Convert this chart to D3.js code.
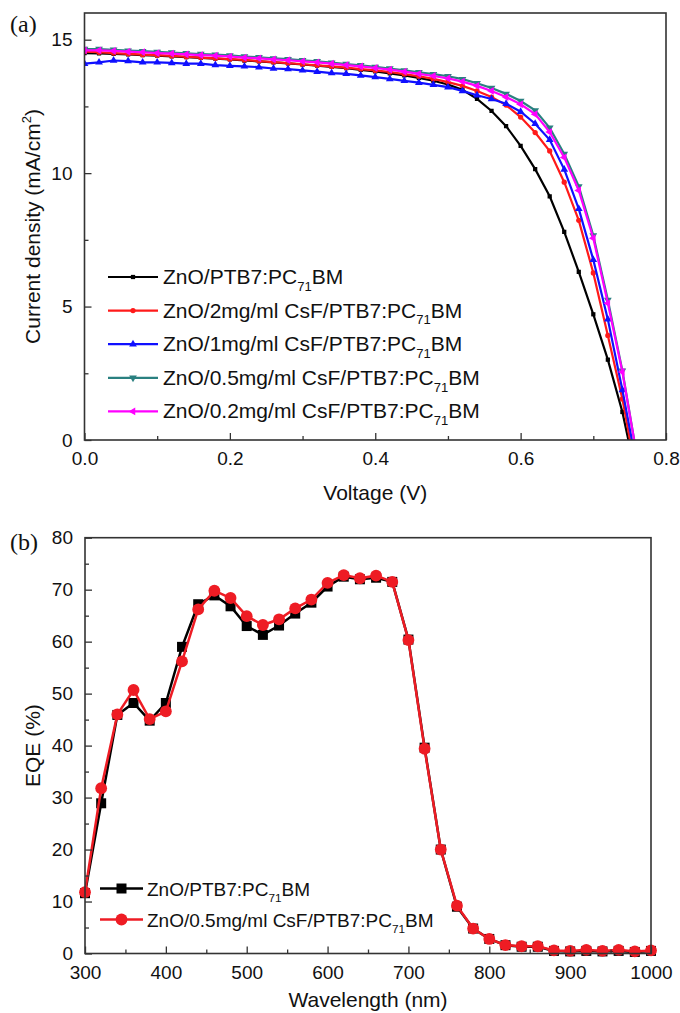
<!DOCTYPE html>
<html><head><meta charset="utf-8">
<script src="https://cdn.jsdelivr.net/npm/d3@7"></script>
<style>body{margin:0;background:#fff;} svg{display:block;font-family:"Liberation Sans",Arial,sans-serif;}</style>
</head><body>
<svg id="c" width="680" height="1013"></svg>
<script>
// ---------- Panel (a) data: J-V curves ----------
const voltage = [0.00,0.02,0.04,0.06,0.08,0.10,0.12,0.14,0.16,0.18,0.20,0.22,0.24,0.26,0.28,0.30,0.32,0.34,0.36,0.38,0.40,0.42,0.44,0.46,0.48,0.50,0.52,0.54,0.56,0.58,0.60,0.62,0.64,0.66,0.68,0.70,0.72,0.74,0.76];
const jBlack   = [14.50,14.49,14.47,14.45,14.42,14.40,14.37,14.35,14.32,14.29,14.26,14.22,14.19,14.15,14.11,14.07,14.03,13.98,13.93,13.87,13.81,13.74,13.66,13.57,13.46,13.32,13.12,12.78,12.33,11.76,11.02,10.15,9.13,7.80,6.30,4.71,3.01,1.05,-1.5];
const jRed     = [14.55,14.53,14.50,14.47,14.44,14.42,14.39,14.36,14.33,14.30,14.27,14.24,14.20,14.16,14.12,14.08,14.04,14.00,13.95,13.90,13.85,13.79,13.71,13.63,13.53,13.41,13.27,13.08,12.85,12.55,12.10,11.52,10.83,9.66,8.23,6.26,3.92,1.54,-1.4];
const jBlue    = [14.10,14.15,14.22,14.20,14.15,14.15,14.13,14.10,14.10,14.05,14.02,14.00,13.97,13.92,13.90,13.85,13.80,13.75,13.72,13.66,13.60,13.53,13.46,13.39,13.31,13.22,13.08,12.92,12.78,12.60,12.30,11.85,11.25,10.14,8.66,6.75,4.52,1.87,-1.0];
const jTeal    = [14.65,14.65,14.62,14.59,14.57,14.54,14.52,14.49,14.46,14.44,14.41,14.37,14.34,14.30,14.27,14.23,14.19,14.14,14.09,14.04,13.98,13.92,13.85,13.78,13.71,13.63,13.52,13.37,13.19,12.97,12.70,12.35,11.70,10.72,9.50,7.66,5.25,2.60,-0.6];
const jMagenta = [14.60,14.60,14.58,14.55,14.53,14.50,14.48,14.45,14.42,14.40,14.37,14.33,14.30,14.26,14.23,14.19,14.15,14.10,14.05,14.00,13.94,13.88,13.80,13.72,13.64,13.55,13.43,13.27,13.08,12.85,12.58,12.21,11.54,10.59,9.35,7.56,5.12,2.55,-0.6];
const seriesA = ["ZnO/PTB7:PC|71|BM","ZnO/2mg/ml CsF/PTB7:PC|71|BM","ZnO/1mg/ml CsF/PTB7:PC|71|BM","ZnO/0.5mg/ml CsF/PTB7:PC|71|BM","ZnO/0.2mg/ml CsF/PTB7:PC|71|BM"];
const xTicksA = [0.0,0.2,0.4,0.6,0.8];
const yTicksA = [0,5,10,15];

// ---------- Panel (b) data: EQE ----------
const wavelength = [300,320,340,360,380,400,420,440,460,480,500,520,540,560,580,600,620,640,660,680,700,720,740,760,780,800,820,840,860,880,900,920,940,960,980,1000];
const eqeRef  = [11.6,28.9,45.9,48.2,44.8,48.2,59.0,67.2,68.9,66.8,63.0,61.3,63.1,65.4,67.5,70.6,72.5,72.0,72.3,71.5,60.4,39.6,20.0,9.0,4.8,2.8,1.6,1.3,1.3,0.5,0.4,0.5,0.4,0.5,0.3,0.5];
const eqeCsF  = [11.8,31.8,46.0,50.7,45.1,46.6,56.2,66.2,69.8,68.4,64.9,63.2,64.3,66.4,68.1,71.3,72.8,72.2,72.7,71.5,60.3,39.4,20.0,9.2,4.8,2.8,1.6,1.4,1.4,0.6,0.5,0.7,0.5,0.7,0.4,0.6];
const seriesB = ["ZnO/PTB7:PC|71|BM","ZnO/0.5mg/ml CsF/PTB7:PC|71|BM"];
const xTicksB = [300,400,500,600,700,800,900,1000];
const yTicksB = [0,10,20,30,40,50,60,70,80];

const svg = d3.select("#c");

function addLabel(sel, str, size){
  const parts = str.split("|");
  sel.append("tspan").text(parts[0]);
  sel.append("tspan").attr("font-size", size*0.62).attr("dy", size*0.32).text(parts[1]);
  sel.append("tspan").attr("dy", -size*0.32).text(parts[2]);
}

function frameAxes(g, x, y, w, h, xt, xMinor, yt, yMinor, xfmt, yfmt, fs){
  const ax = g.append("g").attr("transform",`translate(0,${h})`)
    .call(d3.axisBottom(x).tickValues(xt).tickFormat(xfmt).tickSizeInner(-7).tickSizeOuter(0).tickPadding(12));
  const axm = g.append("g").attr("transform",`translate(0,${h})`)
    .call(d3.axisBottom(x).tickValues(xMinor).tickFormat("").tickSizeInner(-4).tickSizeOuter(0));
  const ay = g.append("g")
    .call(d3.axisLeft(y).tickValues(yt).tickFormat(yfmt).tickSizeInner(-7).tickSizeOuter(0).tickPadding(12));
  const aym = g.append("g")
    .call(d3.axisLeft(y).tickValues(yMinor).tickFormat("").tickSizeInner(-4).tickSizeOuter(0));
  [ax,axm,ay,aym].forEach(a=>{
    a.select(".domain").remove();
    a.selectAll("line").attr("stroke","#333").attr("stroke-width",1.3);
    a.selectAll("text").attr("font-size",fs).attr("fill","#111").attr("font-family","Liberation Sans, Arial, sans-serif");
  });
  g.append("rect").attr("x",0).attr("y",0).attr("width",w).attr("height",h)
    .attr("fill","none").attr("stroke","#333").attr("stroke-width",1.6);
}

// ---------- Panel (a) ----------
{
  const L=84.5, T=13, R=666, B=440, w=R-L, h=B-T;
  const g = svg.append("g").attr("transform",`translate(${L},${T})`);
  const x = d3.scaleLinear().domain([0,0.8]).range([0,w]);
  const y = d3.scaleLinear().domain([0,16]).range([h,0]);
  g.append("clipPath").attr("id","clipA").append("rect").attr("width",w).attr("height",h);
  const colors = ["#000000","#ff1a1a","#1010ff","#2a8080","#ff00ff"];
  const symbols = [
    {t:d3.symbolSquare, s:18, r:0},
    {t:d3.symbolCircle, s:22, r:0},
    {t:d3.symbolTriangle, s:26, r:0},
    {t:d3.symbolTriangle, s:26, r:180},
    {t:d3.symbolTriangle, s:26, r:-90}];
  const data = [jBlack,jRed,jBlue,jTeal,jMagenta];
  const line = d3.line().x(d=>x(d[0])).y(d=>y(d[1]));
  const plot = g.append("g").attr("clip-path","url(#clipA)");
  data.forEach((arr,i)=>{
    const pts = voltage.map((v,k)=>[v,arr[k]]);
    plot.append("path").attr("d",line(pts)).attr("fill","none").attr("stroke",colors[i]).attr("stroke-width",2.2);
    plot.selectAll(null).data(pts.filter(p=>p[1]>0.3)).enter().append("path")
      .attr("d",d3.symbol().type(symbols[i].t).size(symbols[i].s))
      .attr("transform",p=>`translate(${x(p[0])},${y(p[1])}) rotate(${symbols[i].r})`)
      .attr("fill",colors[i]);
  });
  frameAxes(g,x,y,w,h,xTicksA,[0.1,0.3,0.5,0.7],yTicksA,[2.5,7.5,12.5],d3.format(".1f"),d3.format("d"),19);
  // legend
  const lg = svg.append("g");
  seriesA.forEach((s,i)=>{
    const yy = 277 + i*33.6;
    lg.append("line").attr("x1",108).attr("x2",158).attr("y1",yy).attr("y2",yy).attr("stroke",colors[i]).attr("stroke-width",2.2);
    lg.append("path").attr("d",d3.symbol().type(symbols[i].t).size(symbols[i].s))
      .attr("transform",`translate(133,${yy}) rotate(${symbols[i].r})`).attr("fill",colors[i]);
    const t = lg.append("text").attr("x",163).attr("y",yy+7).attr("font-size",21).attr("fill","#111");
    addLabel(t,s,21);
  });
  // axis titles
  svg.append("text").attr("x",(L+R)/2).attr("y",500).attr("text-anchor","middle").attr("font-size",21).attr("fill","#111").text("Voltage (V)");
  const yt = svg.append("text").attr("transform",`translate(40,${(T+B)/2}) rotate(-90)`).attr("text-anchor","middle").attr("font-size",21).attr("fill","#111");
  yt.append("tspan").text("Current density (mA/cm");
  yt.append("tspan").attr("font-size",13).attr("dy",-9).text("2");
  yt.append("tspan").attr("dy",9).text(")");
  svg.append("text").attr("x",10).attr("y",32).attr("font-family","Liberation Serif, Times New Roman, serif").attr("font-size",24).attr("fill","#111").text("(a)");
}

// ---------- Panel (b) ----------
{
  const L=85, T=537.7, R=651, B=953.5, w=R-L, h=B-T;
  const g = svg.append("g").attr("transform",`translate(${L},${T})`);
  const x = d3.scaleLinear().domain([300,1000]).range([0,w]);
  const y = d3.scaleLinear().domain([0,80]).range([h,0]);
  const colors = ["#000000","#ee1c24"];
  const symbols = [{t:d3.symbolSquare,s:100},{t:d3.symbolCircle,s:110}];
  const line = d3.line().x(d=>x(d[0])).y(d=>y(d[1]));
  [eqeRef,eqeCsF].forEach((arr,i)=>{
    const pts = wavelength.map((v,k)=>[v,arr[k]]);
    g.append("path").attr("d",line(pts)).attr("fill","none").attr("stroke",colors[i]).attr("stroke-width",2.5);
    g.selectAll(null).data(pts).enter().append("path")
      .attr("d",d3.symbol().type(symbols[i].t).size(symbols[i].s))
      .attr("transform",p=>`translate(${x(p[0])},${y(p[1])})`).attr("fill",colors[i]);
  });
  frameAxes(g,x,y,w,h,xTicksB,[350,450,550,650,750,850,950],yTicksB,[5,15,25,35,45,55,65,75],d3.format("d"),d3.format("d"),19);
  const lg = svg.append("g");
  seriesB.forEach((s,i)=>{
    const yy = 888.5 + i*31;
    lg.append("line").attr("x1",100).attr("x2",143).attr("y1",yy).attr("y2",yy).attr("stroke",colors[i]).attr("stroke-width",2.5);
    lg.append("path").attr("d",d3.symbol().type(symbols[i].t).size(symbols[i].s))
      .attr("transform",`translate(121.5,${yy})`).attr("fill",colors[i]);
    const t = lg.append("text").attr("x",147).attr("y",yy+7).attr("font-size",19).attr("fill","#111");
    addLabel(t,s,19);
  });
  svg.append("text").attr("x",(L+R)/2).attr("y",1007).attr("text-anchor","middle").attr("font-size",21).attr("fill","#111").text("Wavelength (nm)");
  svg.append("text").attr("transform",`translate(40,${(T+B)/2}) rotate(-90)`).attr("text-anchor","middle").attr("font-size",21).attr("fill","#111").text("EQE (%)");
  svg.append("text").attr("x",10).attr("y",550).attr("font-family","Liberation Serif, Times New Roman, serif").attr("font-size",24).attr("fill","#111").text("(b)");
}
</script>
</body></html>
